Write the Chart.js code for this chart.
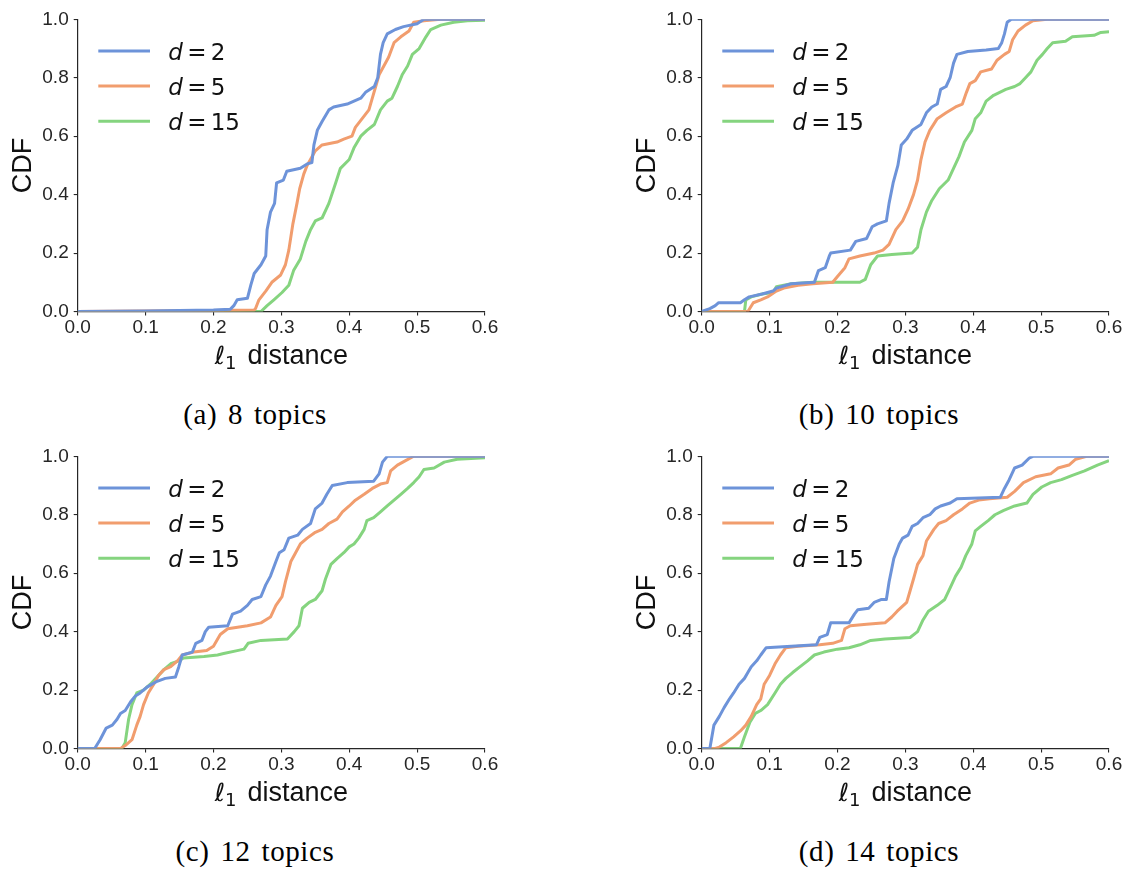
<!DOCTYPE html>
<html>
<head>
<meta charset="utf-8">
<title>CDF of l1 distance</title>
<script src="https://cdn.jsdelivr.net/npm/chart.js@4.4.1/dist/chart.umd.min.js"></script>
<style>
  html, body { margin: 0; padding: 0; background: #ffffff; }
  body { width: 1125px; height: 869px; position: relative; overflow: hidden; }
  canvas.panel { position: absolute; }
  .caption {
    position: absolute;
    font-family: "Liberation Serif", serif;
    font-size: 29px;
    line-height: 1;
    letter-spacing: 0.6px;
    word-spacing: 3px;
    color: #000;
    white-space: nowrap;
    transform: translateX(-50%);
  }
</style>
</head>
<body>
<canvas id="p0" class="panel" width="500" height="380" style="left:0px;top:0px"></canvas>
<canvas id="p1" class="panel" width="500" height="380" style="left:624px;top:0px"></canvas>
<canvas id="p2" class="panel" width="500" height="380" style="left:0px;top:437px"></canvas>
<canvas id="p3" class="panel" width="500" height="380" style="left:624px;top:437px"></canvas>
<script>
// Embedding dimensions compared in every panel
const dims = [2, 5, 15];
const seriesColors = ['#6d93d9', '#f19d6e', '#85d47f'];

// Axis ticks
const xTickValues = [0, 0.1, 0.2, 0.3, 0.4, 0.5, 0.6];
const xTickLabels = ['0.0', '0.1', '0.2', '0.3', '0.4', '0.5', '0.6'];
const yTickValues = [0, 0.2, 0.4, 0.6, 0.8, 1.0];
const yTickLabels = ['0.0', '0.2', '0.4', '0.6', '0.8', '1.0'];

const captions = ['(a) 8 topics', '(b) 10 topics', '(c) 12 topics', '(d) 14 topics'];

// CDF curves, [l1 distance, cumulative fraction]
// 8 topics
const t8_d2 = [[0,0],[0.1,0.002],[0.2,0.005],[0.225,0.008],[0.23,0.02],[0.235,0.04],[0.25,0.045],[0.255,0.09],[0.26,0.13],[0.27,0.16],[0.277,0.19],[0.279,0.28],[0.284,0.34],[0.29,0.37],[0.293,0.44],[0.303,0.45],[0.308,0.48],[0.328,0.49],[0.338,0.505],[0.345,0.51],[0.348,0.57],[0.353,0.62],[0.36,0.65],[0.37,0.69],[0.377,0.70],[0.397,0.71],[0.417,0.73],[0.424,0.75],[0.437,0.77],[0.442,0.80],[0.446,0.88],[0.45,0.92],[0.456,0.95],[0.468,0.965],[0.48,0.975],[0.5,0.985],[0.51,1.0],[0.6,1.0]];
const t8_d5 = [[0,0],[0.2,0.003],[0.26,0.005],[0.262,0.01],[0.267,0.04],[0.277,0.07],[0.286,0.10],[0.299,0.125],[0.306,0.16],[0.311,0.21],[0.317,0.30],[0.323,0.37],[0.327,0.42],[0.333,0.47],[0.338,0.50],[0.35,0.55],[0.36,0.57],[0.382,0.58],[0.392,0.59],[0.404,0.60],[0.409,0.63],[0.419,0.66],[0.429,0.69],[0.434,0.73],[0.439,0.77],[0.444,0.81],[0.451,0.84],[0.458,0.87],[0.466,0.92],[0.476,0.94],[0.488,0.96],[0.495,0.99],[0.51,0.995],[0.535,1.0],[0.6,1.0]];
const t8_d15 = [[0,0],[0.27,0],[0.279,0.02],[0.289,0.04],[0.301,0.065],[0.311,0.09],[0.318,0.14],[0.328,0.18],[0.336,0.24],[0.343,0.28],[0.35,0.31],[0.36,0.32],[0.37,0.37],[0.38,0.44],[0.387,0.49],[0.4,0.52],[0.407,0.56],[0.417,0.60],[0.426,0.62],[0.437,0.64],[0.446,0.69],[0.456,0.72],[0.463,0.73],[0.471,0.77],[0.478,0.81],[0.486,0.84],[0.493,0.88],[0.503,0.90],[0.513,0.94],[0.52,0.965],[0.535,0.98],[0.554,0.99],[0.574,0.995],[0.6,0.997]];

// 10 topics
const t10_d2 = [[0,0],[0.012,0.01],[0.02,0.02],[0.025,0.03],[0.057,0.03],[0.063,0.04],[0.07,0.05],[0.089,0.06],[0.105,0.07],[0.11,0.08],[0.132,0.095],[0.166,0.10],[0.172,0.14],[0.182,0.15],[0.188,0.19],[0.19,0.20],[0.219,0.21],[0.227,0.24],[0.243,0.25],[0.251,0.29],[0.259,0.30],[0.272,0.31],[0.276,0.37],[0.282,0.44],[0.289,0.50],[0.294,0.57],[0.302,0.59],[0.31,0.62],[0.323,0.64],[0.331,0.68],[0.339,0.70],[0.347,0.71],[0.352,0.76],[0.36,0.77],[0.366,0.80],[0.371,0.85],[0.376,0.88],[0.392,0.89],[0.419,0.895],[0.437,0.90],[0.442,0.92],[0.446,0.95],[0.45,0.99],[0.456,1.0],[0.6,1.0]];
const t10_d5 = [[0,0],[0.068,0],[0.076,0.03],[0.087,0.04],[0.097,0.05],[0.11,0.07],[0.121,0.08],[0.142,0.09],[0.164,0.095],[0.193,0.10],[0.2,0.12],[0.211,0.15],[0.217,0.18],[0.233,0.19],[0.254,0.20],[0.267,0.21],[0.276,0.23],[0.286,0.28],[0.296,0.31],[0.304,0.35],[0.312,0.40],[0.318,0.45],[0.323,0.52],[0.329,0.58],[0.336,0.62],[0.347,0.66],[0.36,0.68],[0.374,0.70],[0.384,0.71],[0.39,0.75],[0.395,0.78],[0.403,0.79],[0.411,0.82],[0.427,0.83],[0.435,0.86],[0.446,0.88],[0.453,0.89],[0.458,0.93],[0.466,0.96],[0.477,0.98],[0.488,0.995],[0.509,1.0],[0.6,1.0]];
const t10_d15 = [[0,0],[0.063,0],[0.065,0.04],[0.073,0.05],[0.089,0.06],[0.105,0.065],[0.11,0.085],[0.132,0.095],[0.164,0.10],[0.233,0.10],[0.241,0.11],[0.249,0.16],[0.259,0.19],[0.28,0.195],[0.31,0.20],[0.318,0.22],[0.323,0.28],[0.331,0.34],[0.339,0.38],[0.35,0.42],[0.363,0.45],[0.371,0.49],[0.379,0.53],[0.387,0.58],[0.398,0.62],[0.403,0.66],[0.411,0.68],[0.419,0.72],[0.43,0.74],[0.448,0.76],[0.461,0.77],[0.469,0.78],[0.477,0.80],[0.485,0.82],[0.494,0.86],[0.502,0.88],[0.509,0.90],[0.517,0.92],[0.536,0.925],[0.546,0.94],[0.578,0.945],[0.588,0.955],[0.6,0.957]];

// 12 topics
const t12_d2 = [[0,0],[0.025,0],[0.033,0.03],[0.042,0.07],[0.051,0.08],[0.058,0.10],[0.063,0.12],[0.07,0.13],[0.078,0.16],[0.085,0.18],[0.092,0.19],[0.102,0.21],[0.117,0.23],[0.129,0.24],[0.144,0.245],[0.149,0.28],[0.154,0.32],[0.169,0.33],[0.174,0.36],[0.183,0.37],[0.188,0.40],[0.193,0.415],[0.221,0.42],[0.228,0.46],[0.24,0.47],[0.25,0.49],[0.257,0.51],[0.27,0.52],[0.277,0.56],[0.284,0.59],[0.292,0.64],[0.297,0.67],[0.304,0.68],[0.311,0.72],[0.324,0.73],[0.331,0.75],[0.343,0.77],[0.35,0.82],[0.36,0.84],[0.367,0.87],[0.375,0.90],[0.397,0.91],[0.436,0.915],[0.444,0.94],[0.449,0.98],[0.456,1.0],[0.6,1.0]];
const t12_d5 = [[0,0],[0.063,0],[0.07,0.01],[0.08,0.03],[0.087,0.08],[0.092,0.11],[0.097,0.15],[0.104,0.19],[0.112,0.22],[0.119,0.25],[0.127,0.27],[0.137,0.28],[0.147,0.30],[0.154,0.32],[0.171,0.33],[0.19,0.335],[0.2,0.35],[0.21,0.39],[0.221,0.41],[0.25,0.42],[0.27,0.43],[0.284,0.45],[0.292,0.49],[0.301,0.52],[0.306,0.57],[0.314,0.64],[0.321,0.67],[0.328,0.70],[0.338,0.72],[0.35,0.74],[0.36,0.75],[0.37,0.77],[0.382,0.785],[0.39,0.81],[0.4,0.83],[0.409,0.85],[0.422,0.87],[0.434,0.89],[0.446,0.905],[0.456,0.91],[0.461,0.95],[0.471,0.97],[0.483,0.985],[0.495,1.0],[0.6,1.0]];
const t12_d15 = [[0,0],[0.065,0],[0.07,0.02],[0.075,0.10],[0.08,0.15],[0.087,0.19],[0.097,0.20],[0.107,0.22],[0.119,0.25],[0.127,0.27],[0.137,0.29],[0.149,0.30],[0.156,0.31],[0.186,0.315],[0.206,0.32],[0.215,0.325],[0.235,0.335],[0.245,0.34],[0.251,0.36],[0.27,0.37],[0.309,0.375],[0.319,0.40],[0.326,0.42],[0.331,0.48],[0.341,0.50],[0.35,0.51],[0.36,0.54],[0.365,0.58],[0.373,0.63],[0.382,0.65],[0.392,0.67],[0.4,0.69],[0.407,0.70],[0.414,0.72],[0.422,0.75],[0.426,0.78],[0.436,0.79],[0.446,0.81],[0.456,0.83],[0.466,0.85],[0.476,0.87],[0.486,0.89],[0.495,0.91],[0.503,0.93],[0.51,0.955],[0.525,0.96],[0.54,0.98],[0.559,0.99],[0.6,0.995]];

// 14 topics
const t14_d2 = [[0,0],[0.012,0],[0.018,0.08],[0.026,0.11],[0.033,0.14],[0.041,0.17],[0.047,0.19],[0.055,0.22],[0.063,0.24],[0.068,0.26],[0.073,0.28],[0.081,0.30],[0.087,0.32],[0.095,0.345],[0.132,0.35],[0.169,0.355],[0.174,0.38],[0.185,0.39],[0.19,0.43],[0.217,0.43],[0.225,0.46],[0.23,0.475],[0.246,0.48],[0.254,0.50],[0.265,0.51],[0.272,0.51],[0.276,0.57],[0.283,0.65],[0.291,0.70],[0.296,0.72],[0.304,0.73],[0.31,0.76],[0.318,0.77],[0.326,0.79],[0.336,0.80],[0.344,0.82],[0.352,0.83],[0.366,0.84],[0.376,0.855],[0.44,0.86],[0.446,0.89],[0.453,0.92],[0.461,0.96],[0.472,0.97],[0.483,0.995],[0.488,1.0],[0.6,1.0]];
const t14_d5 = [[0,0],[0.02,0],[0.026,0.005],[0.036,0.02],[0.047,0.04],[0.057,0.06],[0.065,0.08],[0.073,0.11],[0.081,0.15],[0.087,0.17],[0.092,0.22],[0.1,0.25],[0.108,0.29],[0.116,0.32],[0.124,0.345],[0.142,0.35],[0.174,0.355],[0.193,0.36],[0.206,0.37],[0.211,0.41],[0.219,0.42],[0.243,0.425],[0.27,0.43],[0.28,0.45],[0.288,0.47],[0.302,0.50],[0.307,0.54],[0.312,0.58],[0.318,0.63],[0.326,0.66],[0.331,0.71],[0.342,0.75],[0.349,0.77],[0.36,0.78],[0.371,0.80],[0.384,0.82],[0.395,0.84],[0.408,0.85],[0.424,0.855],[0.45,0.86],[0.461,0.88],[0.474,0.91],[0.492,0.93],[0.514,0.94],[0.525,0.96],[0.541,0.97],[0.551,0.99],[0.567,1.0],[0.6,1.0]];
const t14_d15 = [[0,0],[0.057,0],[0.063,0.04],[0.071,0.09],[0.079,0.12],[0.087,0.13],[0.097,0.15],[0.108,0.19],[0.116,0.22],[0.124,0.24],[0.134,0.26],[0.145,0.28],[0.156,0.30],[0.166,0.32],[0.18,0.33],[0.2,0.34],[0.217,0.345],[0.233,0.355],[0.249,0.37],[0.27,0.375],[0.307,0.38],[0.318,0.40],[0.326,0.44],[0.334,0.47],[0.347,0.49],[0.358,0.51],[0.366,0.55],[0.374,0.59],[0.382,0.62],[0.389,0.66],[0.398,0.70],[0.403,0.745],[0.411,0.76],[0.422,0.78],[0.432,0.80],[0.445,0.815],[0.461,0.83],[0.479,0.84],[0.488,0.87],[0.501,0.895],[0.514,0.91],[0.53,0.92],[0.546,0.935],[0.564,0.95],[0.583,0.97],[0.6,0.985]];

const panelSeries = [
  [t8_d2, t8_d5, t8_d15],
  [t10_d2, t10_d5, t10_d15],
  [t12_d2, t12_d5, t12_d15],
  [t14_d2, t14_d5, t14_d15]
];

const INK = '#262626';
const SANS = '"Liberation Sans", Arial, sans-serif';
const MATH = '"DejaVu Sans", sans-serif';

// Legend in the upper-left corner of the plot area: short line + "d = n"
const cornerLegend = {
  id: 'cornerLegend',
  afterDraw(chart) {
    const { ctx, chartArea } = chart;
    const { left, top } = chartArea;
    chart.data.datasets.forEach((ds, i) => {
      const y = top + 31.6 + i * 35.2;
      ctx.save();
      ctx.strokeStyle = ds.borderColor;
      ctx.lineWidth = 3;
      ctx.lineCap = 'butt';
      ctx.beginPath();
      ctx.moveTo(left + 20.6, y);
      ctx.lineTo(left + 72.3, y);
      ctx.stroke();
      ctx.fillStyle = '#111';
      ctx.textBaseline = 'alphabetic';
      ctx.textAlign = 'left';
      const tx = left + 90.5, ty = y + 8.6;
      ctx.font = 'italic 23px ' + MATH;
      ctx.fillText('d', tx, ty);
      ctx.font = '23px ' + MATH;
      ctx.fillText('=', tx + 19, ty);
      ctx.fillText(String(dims[i]), tx + 42.5, ty);
      ctx.restore();
    });
  }
};

// x-axis title with a subscripted norm index
const l1Title = {
  id: 'l1Title',
  afterDraw(chart) {
    const { ctx, chartArea } = chart;
    const cx = (chartArea.left + chartArea.right) / 2;
    const base = chartArea.bottom + 52.5;
    ctx.save();
    ctx.fillStyle = '#111';
    ctx.textBaseline = 'alphabetic';
    ctx.textAlign = 'left';
    const fEll = 'italic 25px ' + MATH, fSub = '18px ' + MATH, fMain = '27px ' + SANS;
    ctx.font = fEll; const wEll = ctx.measureText('\u2113').width;
    ctx.font = fSub; const wSub = ctx.measureText('1').width;
    ctx.font = fMain; const wMain = ctx.measureText('distance').width;
    const gap = 11;
    const total = wEll + wSub + gap + wMain;
    let x = cx - total / 2;
    ctx.font = fEll; ctx.fillText('\u2113', x, base); x += wEll;
    ctx.font = fSub; ctx.fillText('1', x, base + 4.5); x += wSub + gap;
    ctx.font = fMain; ctx.fillText('distance', x, base);
    ctx.restore();
  }
};

function buildPanel(canvasId, series) {
  const ctx = document.getElementById(canvasId).getContext('2d');
  return new Chart(ctx, {
    type: 'line',
    data: {
      datasets: series.map((pts, i) => ({
        label: 'd = ' + dims[i],
        data: pts.map(([x, y]) => ({ x, y })),
        borderColor: seriesColors[i],
        backgroundColor: seriesColors[i],
        borderWidth: 3,
        pointRadius: 0,
        tension: 0,
        fill: false,
        borderJoinStyle: 'round',
        borderCapStyle: 'butt'
      }))
    },
    options: {
      responsive: false,
      animation: false,
      devicePixelRatio: 1,
      layout: { padding: { left: 0, right: 15, top: 19.3, bottom: 0 } },
      plugins: { legend: { display: false }, tooltip: { enabled: false } },
      scales: {
        x: {
          type: 'linear',
          min: 0,
          max: 0.6,
          afterBuildTicks: s => { s.ticks = xTickValues.map(v => ({ value: v })); },
          afterFit: s => { s.height = 68.5; },
          grid: { display: true, drawOnChartArea: false, drawTicks: true, tickLength: 4, color: INK, lineWidth: 1.1 },
          border: { display: true, color: INK, width: 1.2 },
          ticks: {
            padding: 1,
            color: INK,
            maxRotation: 0,
            autoSkip: false,
            font: { family: SANS, size: 19 },
            callback: (v, i) => xTickLabels[i]
          }
        },
        y: {
          type: 'linear',
          min: 0,
          max: 1,
          afterBuildTicks: s => { s.ticks = yTickValues.map(v => ({ value: v })); },
          afterFit: s => { s.width = 77.7; },
          grid: { display: true, drawOnChartArea: false, drawTicks: true, tickLength: 4, color: INK, lineWidth: 1.1 },
          border: { display: true, color: INK, width: 1.2 },
          ticks: {
            padding: 5,
            color: INK,
            autoSkip: false,
            font: { family: SANS, size: 19 },
            callback: (v, i) => yTickLabels[i]
          },
          title: {
            display: true,
            text: 'CDF',
            color: '#111',
            font: { family: SANS, size: 27, lineHeight: 1.2 },
            padding: { top: 7, bottom: 0 }
          }
        }
      }
    },
    plugins: [cornerLegend, l1Title]
  });
}

panelSeries.forEach((series, i) => buildPanel('p' + i, series));

// Sub-figure captions
const captionPos = [[255, 400], [879, 400], [255, 837], [879, 837]];
captions.forEach((text, i) => {
  const el = document.createElement('div');
  el.className = 'caption';
  el.textContent = text;
  el.style.left = captionPos[i][0] + 'px';
  el.style.top = captionPos[i][1] + 'px';
  document.body.appendChild(el);
});
</script>
</body>
</html>
